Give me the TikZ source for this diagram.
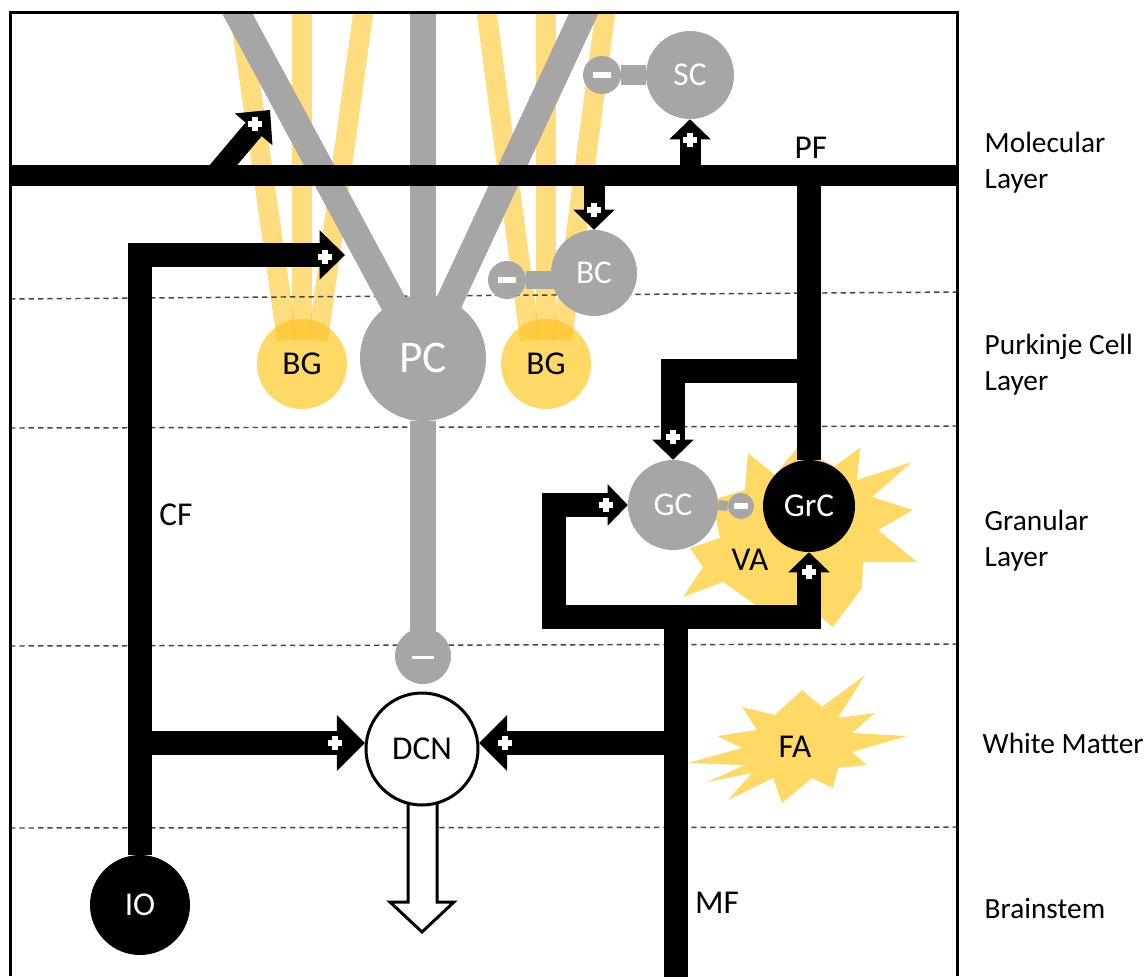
\documentclass[tikz,border=0pt]{standalone}
\usepackage{fontspec}
\setmainfont{Carlito}
\usepackage{tikz}
\usetikzlibrary{arrows.meta, calc}
\definecolor{cellgray}{RGB}{166,166,166}
\definecolor{gliayellow}{RGB}{255,217,102}
\definecolor{fibrecol}{RGB}{255,196,40}
\definecolor{dashgray}{RGB}{70,70,70}
\newcommand{\plusmark}{\makebox[0pt]{\rule[-2pt]{11pt}{4pt}}\makebox[0pt]{\rule[-5.5pt]{4pt}{11pt}}}
\newcommand{\minusmark}[1][13pt]{\rule[-2.5pt]{#1}{5pt}}

\begin{document}
\begin{tikzpicture}[
    x=0.75pt, y=-0.75pt,
    cell/.style={circle, inner sep=0pt, fill=cellgray, text=white,
                 font=\fontsize{25}{30}\selectfont},
    glia/.style={cell, fill=gliayellow, text=black},
    knob/.style={circle, inner sep=0pt, fill=cellgray, text=white},
    plus/.style={inner sep=0pt, text=white},
    axon/.style={draw=black, line width=18pt, line join=miter},
    pfaxon/.style={axon, line width=15.75pt},
    dendrite/.style={draw=cellgray, line width=20pt},
    fibre/.style={draw=fibrecol, draw opacity=0.6, line width=15pt},
    layerline/.style={draw=dashgray, line width=1.1pt, dash pattern=on 4pt off 3pt},
    tag/.style={font=\fontsize{25}{30}\selectfont},
    layername/.style={anchor=west, align=left, font=\fontsize{22}{27}\selectfont},
    HeadBig/.tip={Triangle[length=21pt, width=42pt, line width=0pt]},
    HeadMid/.tip={Triangle[length=19pt, width=37pt, line width=0pt]},
    HeadSmall/.tip={Triangle[length=15pt, width=31pt, line width=0pt]},
  ]
  \useasboundingbox (0,0) rectangle (1147,976);

  % VA and FA
  \fill[gliayellow] (748,453) -- (775,475) -- (797,448) -- (835,466) -- (860,448)
    -- (857,480) -- (912,462) -- (872,497) -- (913,510) -- (878,530) -- (917,562)
    -- (863,562) -- (862,588) -- (833,627) -- (805,605) -- (770,615) -- (723,582)
    -- (683,597) -- (703,567) -- (690,548) -- (720,538) -- (712,500) -- (745,490) -- cycle;
  \fill[gliayellow] (802,690) -- (822,707) -- (865,675) -- (838,718) -- (875,713)
    -- (852,733) -- (907,736) -- (852,752) -- (867,765) -- (838,768) -- (833,788)
    -- (812,778) -- (782,803) -- (773,778) -- (728,800) -- (752,773) -- (707,782)
    -- (745,765) -- (688,763) -- (742,748) -- (717,736) -- (757,730) -- (742,707)
    -- (775,715) -- cycle;

  % Bergmann glia
  \node[glia, minimum size=67.5pt] (BGl) at (302,364) {BG};
  \node[glia, minimum size=67.5pt] (BGr) at (546,364) {BG};
  \begin{scope}
    \clip (10,12) rectangle (957,976);
    \draw[fibre] (238,0) -- (287,340);
    \draw[fibre] (302,0) -- (302,340);
    \draw[fibre] (365,0) -- (318,340);
    \draw[fibre] (485,0) -- (530,340);
    \draw[fibre] (546,0) -- (546,340);
    \draw[fibre] (607,0) -- (562,340);
  \end{scope}

  % layers
  \draw[layerline] (10,299) -- (957,292);
  \draw[layerline] (10,428) -- (957,426);
  \draw[layerline] (10,646) -- (957,644);
  \draw[layerline] (10,828) -- (957,827);

  % Purkinje cell
  \coordinate (soma) at (423,358);
  \begin{scope}
    \clip (10,12) rectangle (957,976);
    \draw[dendrite] (soma) -- (230,0);
    \draw[dendrite] (soma) -- (423,0);
    \draw[dendrite] (soma) -- (590,0);
  \end{scope}
  \node[cell, minimum size=94.5pt, font=\fontsize{34}{40}\selectfont] (PC) at (soma) {PC};
  \node[knob, minimum size=42pt] (PCm) at (423,656) {\minusmark[17pt]};
  \draw[dendrite] (PC.south) -- (PCm.center);

  % interneurons
  \node[cell, minimum size=66pt] (SC) at (690,75) {SC};
  \node[knob, minimum size=28.5pt] (SCm) at (602,75) {\minusmark};
  \draw[cellgray, line width=15pt] (SCm.east) -- (SC.west);
  \node[cell, minimum size=64.5pt] (BC) at (594,273) {BC};
  \node[knob, minimum size=28.5pt] (BCm) at (507,280) {\minusmark};
  \draw[cellgray, line width=13pt] (BCm.east) -- ($(BCm -| BC.west)+(5,0)$);
  \node[cell, minimum size=67.5pt] (GC) at (673,505) {GC};
  \node[knob, minimum size=19.5pt] (GCm) at (741,506) {\minusmark[10pt]};
  \draw[cellgray, line width=7.5pt] (GC.east) -- (GCm.west);
  \node[cell, fill=black, minimum size=69pt] (GrC) at (809,506) {GrC};
  \node[cell, fill=black, minimum size=75pt] (IO) at (140,905) {IO};

  % DCN output
  \draw[line width=2.25pt, fill=white, line join=miter] (408,790) -- (408,902)
    -- (390,902) -- (422,932) -- (454,902) -- (437,902) -- (437,790) -- cycle;
  \node[cell, fill=white, draw=black, line width=2.25pt, text=black,
        minimum size=84pt] (DCN) at (422,749) {DCN};

  % fibres
  \coordinate (pfL) at (10,175);
  \coordinate (pfR) at (957,175);
  \coordinate (pfU) at (215,175);
  \coordinate (bgIn) at (270,110);
  \coordinate (pcIn) at (345,255);
  \coordinate (pfB) at (809,371);
  \coordinate (mfBot) at (676,980);
  \coordinate (mfL) at (554,617);
  \draw[pfaxon] (pfL) -- (pfR);
  \draw[pfaxon, -{HeadMid}] (pfU) -- (bgIn);
  \draw[pfaxon, -{HeadSmall}] (SC.south |- pfR) -- (SC.south);
  \draw[pfaxon, -{HeadSmall}] (BC.north |- pfR) -- (BC.north);
  \draw[axon] (GrC.north) -- (GrC.north |- pfR);
  \draw[axon, -{HeadSmall}] (pfB) -| (GC.north);
  \draw[axon, -{HeadMid}] (IO.north) |- (pcIn);
  \draw[axon, -{HeadBig}] (IO |- DCN.174) -- (DCN.174);
  \draw[axon] (mfBot) -- (mfBot |- mfL);
  \draw[axon, {HeadSmall}-{HeadSmall}] (GC.west) -| (mfL) -| (GrC.south);
  \draw[axon, -{HeadBig}] (mfBot |- DCN.6) -- (DCN.6);

  % frame
  \draw[line width=2.25pt] (10,976) -- (10,12) -- (957,12) -- (957,976);

  % signs
  \node[plus] (plusBG) at (255,124) {\plusmark};
  \node[plus] (plusPC) at (325,257) {\plusmark};
  \node[plus] (plusSC) at (690,140) {\plusmark};
  \node[plus] (plusBC) at (594,210) {\plusmark};
  \node[plus] (plusGCt) at (673,437) {\plusmark};
  \node[plus] (plusGCl) at (606,505) {\plusmark};
  \node[plus] (plusGrC) at (809,572) {\plusmark};
  \node[plus] (plusDCNl) at (335,743) {\plusmark};
  \node[plus] (plusDCNr) at (505,743) {\plusmark};

  % labels
  \node[tag] (cf) at (176,515) {CF};
  \node[tag] (mf) at (717,903) {MF};
  \node[tag] (pf) at (811,148) {PF};
  \node[tag] (va) at (750,560) {VA};
  \node[tag] (fa) at (795,747) {FA};
  \node[layername] (ml) at (980,163) {Molecular\\Layer};
  \node[layername] (pl) at (980,365) {Purkinje Cell\\Layer};
  \node[layername] (gl) at (980,541) {Granular\\Layer};
  \node[layername] (wm) at (978,743) {White Matter};
  \node[layername] (bs) at (980,909) {Brainstem};
\end{tikzpicture}
\end{document}
